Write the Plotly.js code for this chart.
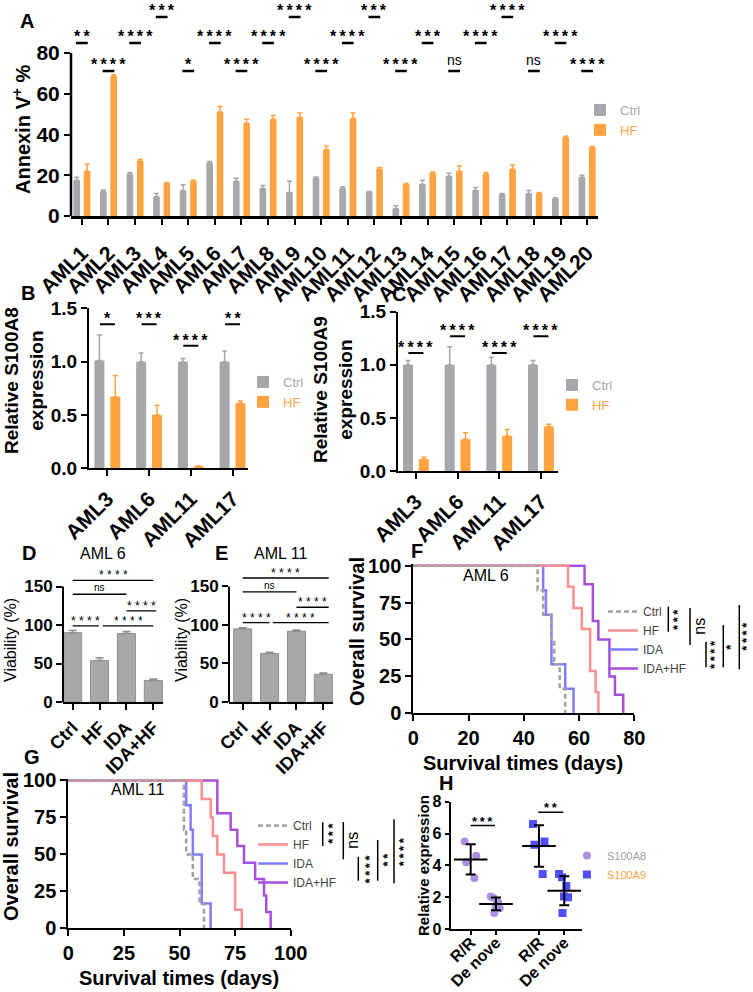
<!DOCTYPE html>
<html><head><meta charset="utf-8">
<script src="https://cdn.plot.ly/plotly-3.0.1.min.js"></script>
<style>html,body{margin:0;padding:0;background:#fff}#chart{width:753px;height:992px}</style>
</head><body><div id="chart"></div>
<script>
// ================= DATA =================
// Panel A: Annexin V+ % per patient sample
const amlCats = ['AML1','AML2','AML3','AML4','AML5','AML6','AML7','AML8','AML9','AML10',
                 'AML11','AML12','AML13','AML14','AML15','AML16','AML17','AML18','AML19','AML20'];
const annexinCtrl    = [17.5, 12, 20.5, 9.5, 12.5, 26, 17, 13.5, 11.5, 18.5, 13.5, 11.5, 3.5, 15.5, 19.5, 12.5, 10.5, 11, 8.5, 19];
const annexinCtrlErr = [1.5, 0.8, 0.8, 1.5, 2.8, 0.8, 1.5, 1.5, 5.5, 0.7, 0.8, 0.5, 1.5, 2, 1.5, 1.5, 0.5, 1.5, 0.5, 1];
const annexinHF      = [22, 68.5, 27, 16, 17, 51, 45.5, 47.5, 48.5, 32.5, 48, 23, 15.5, 21, 22, 20.5, 23, 11, 38.5, 33.5];
const annexinHFErr   = [3.5, 0.8, 0.8, 0.5, 0.5, 2.8, 2, 1.8, 2, 1.8, 2.5, 0.8, 0.5, 0.6, 2.5, 0.8, 2, 0.5, 0.6, 0.6];
const annexinSig     = ['**','****','****','***','*','****','****','****','****','****',
                        '****','***','****','***','ns','****','****','ns','****','****'];

// Panels B / C: relative expression
const qpcrCats   = ['AML3','AML6','AML11','AML17'];
const s100a8Ctrl = [1.01, 1.0, 1.0, 1.0];
const s100a8CtrlErr = [0.24, 0.08, 0.03, 0.1];
const s100a8HF   = [0.67, 0.5, 0.02, 0.61];
const s100a8HFErr = [0.2, 0.09, 0.005, 0.02];
const s100a8Sig  = ['*','***','****','**'];
const s100a9Ctrl = [1.0, 1.0, 1.0, 1.0];
const s100a9CtrlErr = [0.04, 0.17, 0.07, 0.04];
const s100a9HF   = [0.11, 0.30, 0.33, 0.42];
const s100a9HFErr = [0.02, 0.06, 0.06, 0.02];
const s100a9Sig  = ['****','****','****','****'];

// Panels D / E: viability
const treatCats = ['Ctrl','HF','IDA','IDA+HF'];
const viabAML6 = [90, 54, 89, 28];
const viabAML6Err = [3, 3.5, 2.5, 2];
const viabAML11 = [95, 63, 92, 36];
const viabAML11Err = [1.5, 1.5, 1.5, 1.5];
const viabSigPairs = [['Ctrl','IDA+HF'],['Ctrl','IDA'],['IDA','IDA+HF'],['Ctrl','HF'],['HF','IDA+HF']];
const viabSig = ['****','ns','****','****','****'];

// Panels F / G: survival (event days and survival % after each event)
const survF = {
  'Ctrl':   {t:[45, 47, 50, 51, 53, 55], s:[83.3, 66.7, 50, 33.3, 16.7, 0]},
  'HF':     {t:[56, 58, 61, 64, 64, 66, 67], s:[85.7, 71.4, 57.1, 42.9, 28.6, 14.3, 0]},
  'IDA':    {t:[47, 48, 50, 50, 55, 58], s:[83.3, 66.7, 50, 33.3, 16.7, 0]},
  'IDA+HF': {t:[62, 65, 65, 67, 71, 71, 73, 76], s:[87.5, 75, 62.5, 50, 37.5, 25, 12.5, 0]}
};
const survG = {
  'Ctrl':   {t:[52, 52, 53, 56, 59, 61], s:[83.3, 66.7, 50, 33.3, 16.7, 0]},
  'HF':     {t:[60, 64, 65, 67, 70, 75, 75, 78], s:[87.5, 75, 62.5, 50, 37.5, 25, 12.5, 0]},
  'IDA':    {t:[53, 55, 56, 60, 60, 64], s:[83.3, 66.7, 50, 33.3, 16.7, 0]},
  'IDA+HF': {t:[67, 67, 73, 76, 79, 84, 88, 89, 91], s:[88.9, 77.8, 66.7, 55.6, 44.4, 33.3, 22.2, 11.1, 0]}
};
const survSigF = ['***','ns','****','*','****'];
const survSigG = ['***','ns','****','**','****'];

// Panel H: relative expression R/R vs De nove
const hGroups = ['R/R','De nove'];
const s100a8RR = [5.5, 4.6, 4.2, 3.2];
const s100a8DN = [2.05, 1.95, 1.7, 1.45, 1.3, 1.0];
const s100a9RR = [6.6, 5.5, 5.3, 3.45];
const s100a9DN = [3.25, 3.45, 2.7, 2.05, 2.0, 1.0];
const hSig = ['***','**'];

// ================= LAYOUT HELPERS =================
const W = 753, H = 992;
const FONT = 'Liberation Sans, Arial, sans-serif';
const xd = (a, b) => [a / W, b / W];
const yd = (top, bottom) => [1 - bottom / H, 1 - top / H];
const GRAY = '#a6a6ab', ORANGE = '#ffa23f', BARGRAY = '#a8a8a8';
const annotations = [], shapes = [], traces = [];
const f = (size, weight, color) => ({family: FONT, size: size, weight: weight || 'normal', color: color || '#000'});
function ptxt(x, y, text, font, extra) {
  annotations.push(Object.assign({xref:'paper', yref:'paper', x: x / W, y: 1 - y / H, text: text,
    showarrow:false, xanchor:'center', yanchor:'middle', font: font}, extra || {}));
}
function pline(x0, y0, x1, y1, w) {
  shapes.push({type:'line', xref:'paper', yref:'paper', x0:x0 / W, x1:x1 / W, y0:1 - y0 / H, y1:1 - y1 / H, line:{color:'#000', width:w || 1.5}});
}
const THIN = '\u2009';
const stars = (s, sep) => s === 'ns' ? s : s.split('').join(sep === undefined ? THIN : sep);
function sig(xa, ya, x0, x1, yv, label, size, lw, shiftStar, shiftNs, sep, nsSize, weight) {
  shapes.push({type:'line', xref:xa, yref:ya, x0:x0, x1:x1, y0:yv, y1:yv, line:{color:'#000', width:lw}});
  annotations.push({xref:xa, yref:ya, x:(x0 + x1) / 2, y:yv, text:stars(label, sep), showarrow:false,
    xanchor:'center', yanchor:'bottom', yshift: label === 'ns' ? shiftNs : shiftStar,
    font: label === 'ns' ? f(nsSize || size - 3) : f(size, weight || 'normal'), borderpad:0});
}
function axisBase(extra) {
  return Object.assign({showline:true, linecolor:'#000', linewidth:2, ticks:'outside', ticklen:6, tickwidth:2,
    tickcolor:'#000', showgrid:false, zeroline:false, fixedrange:true}, extra);
}
const zeros = a => a.map(() => 0);

// ================= PANEL A =================
traces.push({type:'bar', x:amlCats, y:annexinCtrl, name:'<span style="color:' + GRAY + '">Ctrl</span>',
  marker:{color:GRAY}, width:0.25, offset:-0.32, xaxis:'x', yaxis:'y', legend:'legend',
  error_y:{type:'data', symmetric:false, array:annexinCtrlErr, arrayminus:zeros(annexinCtrlErr), color:GRAY, thickness:1.5, width:2.5}});
traces.push({type:'bar', x:amlCats, y:annexinHF, name:'<span style="color:' + ORANGE + '">HF</span>',
  marker:{color:ORANGE}, width:0.25, offset:0.07, xaxis:'x', yaxis:'y', legend:'legend',
  error_y:{type:'data', symmetric:false, array:annexinHFErr, arrayminus:zeros(annexinHFErr), color:ORANGE, thickness:1.5, width:2.5}});
const aTier = [1,0,1,2,0,1,0,1,2,0,1,2,0,1,0,1,2,0,1,0];
const aTierLine = [71.2, 84.9, 97.7];
annexinSig.forEach((s, i) => sig('x', 'y', i - 0.22, i + 0.22, aTierLine[aTier[i]], s, 16, 2.5, -3, 2, THIN, 14, 'bold'));
shapes.push({type:'line', xref:'x domain', yref:'y', x0:0, x1:0, y0:0, y1:80, line:{color:'#000', width:2.5}});

// ================= PANEL B / C =================
function exprPanel(xa, ya, lg, ctrl, ctrlErr, hf, hfErr, sigs, lines) {
  traces.push({type:'bar', x:qpcrCats, y:ctrl, name:'<span style="color:' + GRAY + '">Ctrl</span>', marker:{color:GRAY},
    width:0.24, offset:-0.31, xaxis:xa, yaxis:ya, legend:lg,
    error_y:{type:'data', symmetric:false, array:ctrlErr, arrayminus:zeros(ctrlErr), color:GRAY, thickness:1.5, width:2.5}});
  traces.push({type:'bar', x:qpcrCats, y:hf, name:'<span style="color:' + ORANGE + '">HF</span>', marker:{color:ORANGE},
    width:0.24, offset:0.07, xaxis:xa, yaxis:ya, legend:lg,
    error_y:{type:'data', symmetric:false, array:hfErr, arrayminus:zeros(hfErr), color:ORANGE, thickness:1.5, width:2.5}});
  sigs.forEach((s, i) => sig(xa, ya, i - 0.18, i + 0.18, lines[i], s, 16, 2, -4, 1, THIN, 13, 'bold'));
}
exprPanel('x2', 'y2', 'legend2', s100a8Ctrl, s100a8CtrlErr, s100a8HF, s100a8HFErr, s100a8Sig, [1.35, 1.35, 1.15, 1.35]);
exprPanel('x3', 'y3', 'legend3', s100a9Ctrl, s100a9CtrlErr, s100a9HF, s100a9HFErr, s100a9Sig, [1.11, 1.27, 1.11, 1.27]);

// ================= PANEL D / E =================
function viabPanel(xa, ya, vals, errs, lines, xs) {
  traces.push({type:'bar', x:treatCats, y:vals, marker:{color:BARGRAY, line:{color:'#8f8f8f', width:1}}, width:0.67, offset:-0.335,
    xaxis:xa, yaxis:ya, showlegend:false,
    error_y:{type:'data', symmetric:false, array:errs, arrayminus:zeros(errs), color:'#8f8f8f', thickness:1.5, width:4}});
  viabSigPairs.forEach((p, i) => {
    sig(xa, ya, xs[i][0], xs[i][1], lines[i], viabSig[i], 12, 1.3, -3, 0, ' ', 10);
  });
  shapes.push({type:'line', xref:xa + ' domain', yref:ya, x0:0, x1:0, y0:0, y1:150, line:{color:'#000', width:2}});
}
viabPanel('x4', 'y4', viabAML6, viabAML6Err, [158, 140, 118.5, 99, 99], [[0, 3], [0, 2], [2, 3.1], [0, 0.97], [1.12, 3]]);
viabPanel('x5', 'y5', viabAML11, viabAML11Err, [161, 143, 123, 103, 103], [[0, 3.2], [0, 2], [2, 3.2], [0, 1], [1.12, 3.2]]);

// ================= PANEL F / G =================
const survStyle = {
  'Ctrl':   {color:'#a0a0a0', dash:'5px,3px'},
  'HF':     {color:'#ff8e8e', dash:'solid'},
  'IDA':    {color:'#7d7dff', dash:'solid'},
  'IDA+HF': {color:'#a64fdc', dash:'solid'}
};
function survPanel(data, xa, ya, lg) {
  ['IDA+HF', 'IDA', 'HF', 'Ctrl'].forEach(k => {
    traces.push({type:'scatter', mode:'lines', name:k, x:[0].concat(data[k].t), y:[100].concat(data[k].s),
      line:{shape:'hv', color:survStyle[k].color, width:2.5, dash:survStyle[k].dash}, xaxis:xa, yaxis:ya, legend:lg});
  });
}
survPanel(survF, 'x6', 'y6', 'legend4');
survPanel(survG, 'x7', 'y7', 'legend5');
function brackets(list, labels) {
  list.forEach((b, i) => {
    pline(b[0], b[1], b[0], b[2], 1.5);
    ptxt(b[3], b[4], stars(labels[i], THIN), labels[i] === 'ns' ? f(16) : f(13, 'bold'), {textangle:-90});
  });
}
brackets([[668.3, 606.7, 631.7, 677.5, 619.5], [690, 608, 645, 700, 626.7], [706, 641.7, 667.3, 714, 655],
          [723.3, 625, 667.3, 731, 646.7], [739.3, 605, 669.3, 747, 636.7]], survSigF);
brackets([[322.7, 822.3, 846, 332.5, 833.3], [343.3, 822, 859.3, 351.7, 840], [358.3, 856.7, 880.7, 368.5, 869],
          [377.7, 840, 880.7, 386.5, 860], [394, 819.3, 883.3, 403.5, 851.7]], survSigG);

// ================= PANEL H =================
const hGap = 2.7;
function hGene(rr, dn, gi, color, symbol, legendText) {
  const p0 = gi * hGap, p1 = gi * hGap + 1;
  traces.push({type:'box', x:rr.map(() => p0).concat(dn.map(() => p1)), y:rr.concat(dn), boxpoints:'all', jitter:0.75,
    pointpos:0, width:0.75, fillcolor:'rgba(0,0,0,0)', line:{width:0, color:'rgba(0,0,0,0)'},
    marker:{color:color, size:8, symbol:symbol}, xaxis:'x8', yaxis:'y8', showlegend:false, hoverinfo:'skip'});
  const mean = a => a.reduce((s, v) => s + v, 0) / a.length;
  const sd = a => { const m = mean(a); return Math.sqrt(a.reduce((s, v) => s + (v - m) * (v - m), 0) / (a.length - 1)); };
  traces.push({type:'scatter', mode:'markers', x:[p0, p1], y:[mean(rr), mean(dn)],
    marker:{symbol:'line-ew', size:24, line:{width:2, color:'#000'}, color:'#000'},
    error_y:{type:'data', array:[sd(rr), sd(dn)], color:'#000', thickness:2, width:5},
    xaxis:'x8', yaxis:'y8', showlegend:false});
  traces.push({type:'scatter', mode:'markers', x:[null], y:[null], name:legendText,
    marker:{color:color, size:8, symbol:symbol}, xaxis:'x8', yaxis:'y8', legend:'legend6'});
}
hGene(s100a8RR, s100a8DN, 0, '#ab90e2', 'circle', '<span style="color:#a0a0a0">S100A8</span>');
hGene(s100a9RR, s100a9DN, 1, '#4f4fff', 'square', '<span style="color:' + ORANGE + '">S100A9</span>');
sig('x8', 'y8', 0, 0.96, 6.5, hSig[0], 13, 1.5, -4, 0, THIN, 11, 'bold');
sig('x8', 'y8', hGap - 0.03, hGap + 0.96, 7.33, hSig[1], 13, 1.5, -4, 0, THIN, 11, 'bold');

// ================= TEXT =================
const L = f(20, 'bold');
[['A', 27, 21], ['B', 27.5, 293], ['C', 399, 294], ['D', 29, 553], ['E', 221, 553], ['F', 417, 551], ['G', 32, 757], ['H', 446, 783]]
  .forEach(p => ptxt(p[1], p[2], p[0], L));
ptxt(22, 129, 'Annexin V<sup>+</sup> %', f(20, 'bold'), {textangle:-90});
ptxt(24, 381, 'Relative S100A8<br>expression', f(19, 'bold'), {textangle:-90});
ptxt(333, 390, 'Relative S100A9<br>expression', f(19, 'bold'), {textangle:-90});
ptxt(10, 640, 'Viability (%)', f(16), {textangle:-90});
ptxt(181, 640, 'Viability (%)', f(16), {textangle:-90});
ptxt(357, 632, 'Overall survival', f(20, 'bold'), {textangle:-90});
ptxt(11, 847, 'Overall survival', f(20, 'bold'), {textangle:-90});
ptxt(423, 865, 'Relative expression', f(15, 'bold'), {textangle:-90});
ptxt(523, 763, 'Survival times (days)', f(20, 'bold'));
ptxt(179, 978, 'Survival times (days)', f(20, 'bold'));
ptxt(103, 553, 'AML 6', f(16));
ptxt(280, 553, 'AML 11', f(16));
ptxt(486, 575, 'AML 6', f(16));
ptxt(137, 789, 'AML 11', f(16));

// ================= AXES =================
const legendBase = (x, top, font, extra) => Object.assign({x:x / W, y:1 - top / H, xanchor:'left', yanchor:'top',
  bgcolor:'rgba(0,0,0,0)', font:font, itemwidth:30}, extra || {});
const layout = {
  width:W, height:H, margin:{l:0, r:0, t:0, b:0}, paper_bgcolor:'#fff', plot_bgcolor:'rgba(0,0,0,0)',
  font:{family:FONT, color:'#000'}, barmode:'overlay', hovermode:false, showlegend:true,
  xaxis: axisBase({domain:xd(71, 598), range:[-0.41, 19.41], anchor:'y', type:'category', tickangle:-45, tickfont:f(21, 'bold'), linewidth:2.5, ticklabelstandoff:8}),
  yaxis: axisBase({domain:yd(12.25, 216), range:[0, 100], anchor:'x', showline:false, tickvals:[0, 20, 40, 60, 80], tickfont:f(21, 'bold')}),
  xaxis2: axisBase({domain:xd(89, 248), range:[-0.44, 3.37], anchor:'y2', type:'category', tickangle:-45, tickfont:f(21, 'bold'), ticklabelstandoff:2}),
  yaxis2: axisBase({domain:yd(308.3, 468.3), range:[0, 1.5], anchor:'x2', dtick:0.5, tickformat:'.1f', tickfont:f(19, 'bold')}),
  xaxis3: axisBase({domain:xd(398, 558), range:[-0.43, 3.41], anchor:'y3', type:'category', tickangle:-45, tickfont:f(21, 'bold'), ticklabelstandoff:2}),
  yaxis3: axisBase({domain:yd(311.7, 471), range:[0, 1.5], anchor:'x3', dtick:0.5, tickformat:'.1f', tickfont:f(19, 'bold')}),
  xaxis4: axisBase({domain:xd(63, 163), range:[-0.36, 3.36], anchor:'y4', type:'category', tickangle:-45, tickfont:f(18, 'bold')}),
  yaxis4: axisBase({domain:yd(577.3, 702), range:[0, 162], anchor:'x4', showline:false, tickvals:[0, 50, 100, 150], tickfont:f(17, 'bold')}),
  xaxis5: axisBase({domain:xd(229, 333), range:[-0.51, 3.36], anchor:'y5', type:'category', tickangle:-45, tickfont:f(18, 'bold')}),
  yaxis5: axisBase({domain:yd(575.7, 702), range:[0, 164], anchor:'x5', showline:false, tickvals:[0, 50, 100, 150], tickfont:f(17, 'bold')}),
  xaxis6: axisBase({domain:xd(413.3, 634.3), range:[0, 80], anchor:'y6', dtick:20, tickfont:f(20, 'bold')}),
  yaxis6: axisBase({domain:yd(564.2, 713.3), range:[0, 101], anchor:'x6', tickvals:[0, 25, 50, 75, 100], tickfont:f(20, 'bold')}),
  xaxis7: axisBase({domain:xd(68.3, 290.7), range:[0, 100], anchor:'y7', dtick:25, tickfont:f(20, 'bold')}),
  yaxis7: axisBase({domain:yd(779, 928.3), range:[0, 101], anchor:'x7', tickvals:[0, 25, 50, 75, 100], tickfont:f(20, 'bold')}),
  xaxis8: axisBase({domain:xd(450.7, 581.7), range:[-0.79, 4.39], anchor:'y8', tickvals:[0, 1, hGap, hGap + 1],
    ticktext:hGroups.concat(hGroups), tickangle:-45, ticklen:4, tickfont:f(16, 'bold'), ticklabelstandoff:-8}),
  yaxis8: axisBase({domain:yd(801.7, 929), range:[0, 8], anchor:'x8', dtick:2, ticklen:4, tickfont:f(16, 'bold')}),
  legend:  legendBase(580, 95, f(13)),
  legend2: legendBase(243, 367, f(13)),
  legend3: legendBase(552, 370, f(13)),
  legend4: legendBase(603, 597, f(12, 'normal', '#444'), {traceorder:'reversed'}),
  legend5: legendBase(253, 811, f(12, 'normal', '#444'), {traceorder:'reversed'}),
  legend6: legendBase(567, 841, f(11)),
  annotations: annotations, shapes: shapes
};
Plotly.newPlot('chart', traces, layout, {displayModeBar:false, staticPlot:true});
</script>
</body></html>
